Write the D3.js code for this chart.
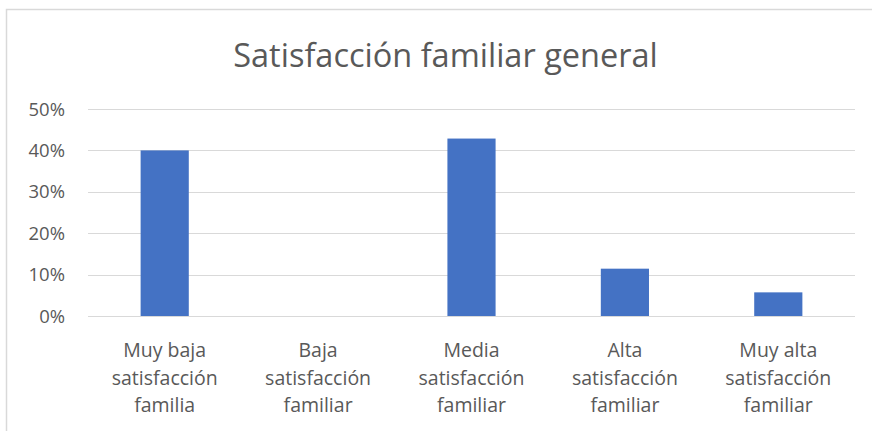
<!DOCTYPE html>
<html>
<head>
<meta charset="utf-8">
<script src="https://cdn.jsdelivr.net/npm/d3@7"></script>
<style>
  body { margin: 0; background: #fff; }
  svg { display: block; }
  text { font-family: "Open Sans", "Noto Sans", sans-serif; fill: #595959; }
</style>
</head>
<body>
<svg id="chart"></svg>
<script>
// data
const categories = [
    ["Muy baja", "satisfacción", "familia"],
    ["Baja", "satisfacción", "familiar"],
    ["Media", "satisfacción", "familiar"],
    ["Alta", "satisfacción", "familiar"],
    ["Muy alta", "satisfacción", "familiar"]
];
const values = [0.40, 0, 0.4286, 0.1143, 0.0571];
const yTicks = [0, 0.1, 0.2, 0.3, 0.4, 0.5];
const title = "Satisfacción familiar general";

const width = 872, height = 431;
const margin = {top: 109, right: 17, bottom: 115, left: 88};

const svg = d3.select("#chart")
    .attr("width", width)
    .attr("height", height);

// chart frame
svg.append("path")
    .attr("d", `M6.5,${height} V9.5 H${width}`)
    .attr("fill", "none")
    .attr("stroke", "#d9d9d9")
    .attr("stroke-width", 1.5);

const x = d3.scaleBand()
    .domain(d3.range(categories.length))
    .range([margin.left, width - margin.right])
    .paddingInner(0.686)
    .paddingOuter(0.343);

const y = d3.scaleLinear()
    .domain([0, 0.5])
    .range([height - margin.bottom, margin.top]);

// gridlines
svg.append("g")
    .selectAll("line")
    .data(yTicks)
    .join("line")
    .attr("x1", margin.left)
    .attr("x2", width - margin.right)
    .attr("y1", d => Math.round(y(d)) + 0.5)
    .attr("y2", d => Math.round(y(d)) + 0.5)
    .attr("stroke", "#d9d9d9")
    .attr("stroke-width", 1);

// y labels
svg.append("g")
    .selectAll("text")
    .data(yTicks)
    .join("text")
    .attr("x", 65)
    .attr("y", d => y(d) + 6.5)
    .attr("text-anchor", "end")
    .attr("font-size", 18.5)
    .text(d => d3.format(".0%")(d));

// bars
svg.append("g")
    .selectAll("rect")
    .data(values)
    .join("rect")
    .attr("x", (d, i) => x(i))
    .attr("width", x.bandwidth())
    .attr("y", d => y(d))
    .attr("height", d => y(0) - y(d))
    .attr("fill", "#4472c4");

// category labels
const labels = svg.append("g")
    .selectAll("text")
    .data(categories)
    .join("text")
    .attr("text-anchor", "middle")
    .attr("font-size", 19.5);

labels.selectAll("tspan")
    .data((d, i) => d.map(t => ({t, i})))
    .join("tspan")
    .attr("x", d => x(d.i) + x.bandwidth() / 2)
    .attr("y", (d, j) => 357 + j * 27.5)
    .text(d => d.t);

// title
svg.append("text")
    .attr("x", (margin.left + width - margin.right) / 2 - 26)
    .attr("y", 67)
    .attr("text-anchor", "middle")
    .attr("font-size", 32.5)
    .text(title);
</script>
</body>
</html>
